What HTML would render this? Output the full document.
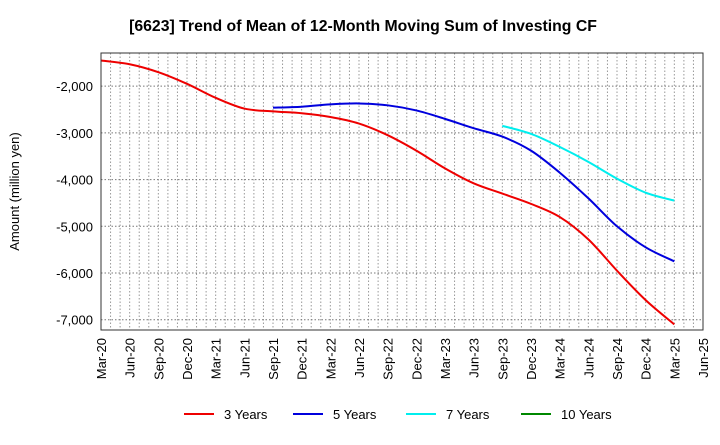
<!DOCTYPE html>
<html><head><meta charset="utf-8"><style>
body{margin:0;background:#fff;font-family:"Liberation Sans",sans-serif}
</style></head><body>
<svg id="c" width="720" height="440" xmlns="http://www.w3.org/2000/svg" font-family="Liberation Sans, sans-serif"></svg>
<script>
const xLabels=["Mar-20","Jun-20","Sep-20","Dec-20","Mar-21","Jun-21","Sep-21","Dec-21","Mar-22","Jun-22","Sep-22","Dec-22","Mar-23","Jun-23","Sep-23","Dec-23","Mar-24","Jun-24","Sep-24","Dec-24","Mar-25","Jun-25"];
const yTicks=[-7000,-6000,-5000,-4000,-3000,-2000];
const s3=[-1450,-1530,-1700,-1950,-2250,-2480,-2540,-2580,-2660,-2800,-3050,-3380,-3760,-4080,-4300,-4520,-4800,-5280,-5950,-6580,-7100];
const s5=[null,null,null,null,null,null,-2460,-2440,-2390,-2370,-2410,-2520,-2700,-2900,-3080,-3380,-3850,-4400,-5000,-5450,-5750];
const s7=[null,null,null,null,null,null,null,null,null,null,null,null,null,null,-2850,-3020,-3300,-3620,-3980,-4280,-4450];
const s10=[];
const L=101,R=703,T=53,B=330,ymin=-7220,ymax=-1290;
const X=i=>L+(R-L)*i/21, Y=v=>B-(v-ymin)/(ymax-ymin)*(B-T);
const svg=document.getElementById('c');const NS="http://www.w3.org/2000/svg";
function mk(t,a,p){const e=document.createElementNS(NS,t);for(const k in a)e.setAttribute(k,a[k]);(p||svg).appendChild(e);return e;}
let t=mk('text',{x:363,y:31,'text-anchor':'middle','font-size':15.8,'font-weight':'bold'});t.textContent="[6623]  Trend of Mean of 12-Month Moving Sum of Investing CF";

const g=mk('g',{});
for(let m=1;m<63;m++){const x=L+(R-L)*m/63;mk('line',{x1:x,x2:x,y1:T,y2:B,stroke:'#999','stroke-dasharray':'1.5,2','stroke-width':1},g);}
yTicks.forEach(v=>{mk('line',{x1:L,x2:R,y1:Y(v),y2:Y(v),stroke:'#777','stroke-dasharray':'1.5,2'},g);
const tx=mk('text',{x:L-8,y:Y(v)+5,'text-anchor':'end','font-size':13});tx.textContent=v.toLocaleString('en-US');
});
xLabels.forEach((l,i)=>{const tx=mk('text',{transform:`translate(${X(i)+5},${B+8}) rotate(-90)`,'text-anchor':'end','font-size':13});tx.textContent=l;
});
const yt=mk('text',{transform:`translate(19,${(T+B)/2}) rotate(-90)`,'text-anchor':'middle','font-size':13});yt.textContent="Amount (million yen)";

function path(arr){const p=[];arr.forEach((v,i)=>{if(v!=null)p.push([X(i),Y(v)]);});if(!p.length)return '';
let d=`M${p[0][0]},${p[0][1]}`;for(let i=0;i<p.length-1;i++){const p0=p[i-1]||p[i],p1=p[i],p2=p[i+1],p3=p[i+2]||p2;
d+=`C${p1[0]+(p2[0]-p0[0])/6},${p1[1]+(p2[1]-p0[1])/6} ${p2[0]-(p3[0]-p1[0])/6},${p2[1]-(p3[1]-p1[1])/6} ${p2[0]},${p2[1]}`;}return d;}
const series=[[s3,'#e00','3 Years'],[s5,'#0000dd','5 Years'],[s7,'#0ee','7 Years'],[s10,'#080','10 Years']];
series.forEach(([a,c,n])=>{const d=path(a);if(d){const e=mk('path',{d,fill:'none',stroke:c,'stroke-width':2});
}});
const fr=mk('rect',{x:L,y:T,width:R-L,height:B-T,fill:'none',stroke:'#333'});
const lx=[184,293,406,521];
series.forEach(([a,c,n],i)=>{const lg=mk('g',{});
mk('line',{x1:lx[i],x2:lx[i]+30,y1:414,y2:414,stroke:c,'stroke-width':2},lg);
const tx=mk('text',{x:lx[i]+40,y:419,'font-size':13},lg);tx.textContent=n;});
</script>
</body></html>
